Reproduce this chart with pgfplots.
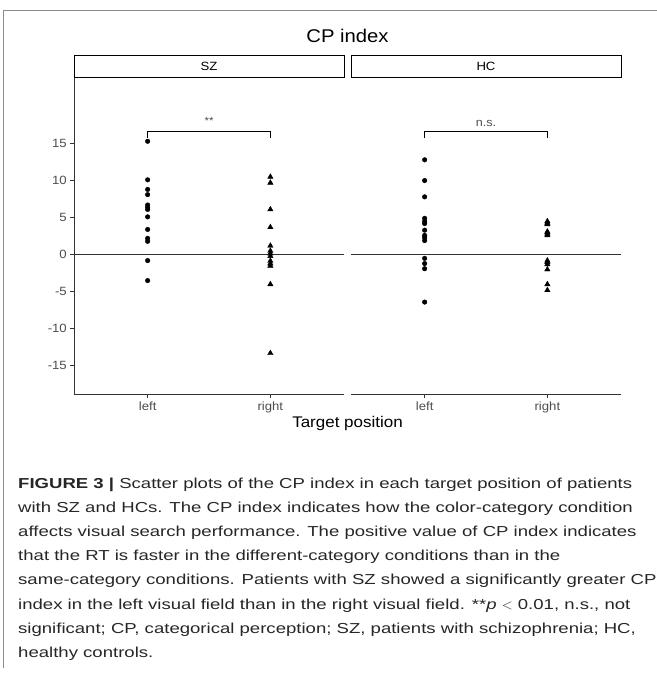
\documentclass[border=0pt]{standalone}
\usepackage{pgfplots}
\pgfplotsset{compat=1.18}
\usepackage{fontspec}
\setmainfont[FakeStretch=1.1]{Liberation Sans}
\newfontfamily\capfont[FakeStretch=1.285]{Liberation Sans}
\definecolor{axgray}{HTML}{333333}
\definecolor{tickgray}{HTML}{4D4D4D}
\definecolor{framegray}{HTML}{8C8C8C}

\pgfplotsset{
  facet/.style={
    scale only axis, width=270bp, height=316bp,
    xmin=0.4, xmax=2.6, ymin=-18.85, ymax=23.8,
    axis line style={-, axgray, line width=0.8bp},
    tick style={axgray, line width=0.8bp},
    tick align=outside, major tick length=3.7bp,
    xtick={1,2}, xticklabels={left,right},
    ticklabel style={tickgray, font=\fontsize{12}{14}\selectfont},
    clip=false,
  },
  circ/.style={only marks, mark=*, mark size=2.3bp, black},
  tri/.style={only marks, mark=triangle*, mark size=3.1bp, black},
}

\begin{document}
\begin{tikzpicture}
\useasboundingbox (0bp,0bp) rectangle (657bp,-681bp);
\begin{scope}[x=1bp, y=1bp]
% frame of the figure
\draw[framegray, line width=1bp] (3,-668) -- (3,-10) -- (657,-10);
\node at (347.5,-36) {\fontsize{18.5}{20}\selectfont CP index};
\draw[black, line width=0.8bp] (74,-55) rectangle (344,-77);
\node at (209,-66) {\fontsize{12}{14}\selectfont SZ};
\draw[black, line width=0.8bp] (351,-55) rectangle (621,-77);
\node at (486,-66) {\fontsize{12}{14}\selectfont HC};
\end{scope}

% SZ panel
\begin{axis}[facet, at={(74bp,-394.3bp)}, anchor=south west,
  axis x line*=bottom, axis y line*=left,
  ytick={-15,-10,-5,0,5,10,15},
  yticklabels={-15,-10,-5,0,5,10,15}]
\addplot[axgray, line width=0.8bp, no marks] coordinates {(0.4,0) (2.6,0)};
\addplot[circ] coordinates {
  (1,15.3) (1,10.1) (1,8.8) (1,8.1) (1,6.7) (1,6.4) (1,6.1)
  (1,5.1) (1,3.4) (1,2.2) (1,1.8) (1,-0.8) (1,-3.5)
};
\addplot[tri] coordinates {
  (2,10.5) (2,9.7) (2,6.1) (2,3.7) (2,1.2) (2,0.5) (2,0.15)
  (2,-0.2) (2,-0.85) (2,-1.2) (2,-1.5) (2,-4.0) (2,-13.3)
};
\addplot[black, line width=0.8bp, no marks] coordinates {(1,15.8) (1,16.6) (2,16.6) (2,15.8)};
\node[font=\fontsize{10.5}{12}\selectfont, tickgray] at (axis cs:1.5,18.0) {**};
\end{axis}

% HC panel
\begin{axis}[facet, at={(351bp,-394.3bp)}, anchor=south west,
  axis x line*=bottom, axis y line=none]
\addplot[axgray, line width=0.8bp, no marks] coordinates {(0.4,0) (2.6,0)};
\addplot[circ] coordinates {
  (1,12.8) (1,10.0) (1,7.8) (1,4.9) (1,4.5) (1,4.2) (1,3.3)
  (1,2.6) (1,2.3) (1,1.9) (1,-0.5) (1,-1.2) (1,-1.9) (1,-6.4)
};
\addplot[tri] coordinates {
  (2,4.5) (2,4.3) (2,4.1) (2,3.1) (2,3.0) (2,2.8) (2,2.6)
  (2,-0.8) (2,-1.0) (2,-1.3) (2,-2.0) (2,-4.0) (2,-4.8)
};
\addplot[black, line width=0.8bp, no marks] coordinates {(1,15.8) (1,16.6) (2,16.6) (2,15.8)};
\node[font=\fontsize{11.5}{13}\selectfont, tickgray] at (axis cs:1.5,17.7) {n.s.};
\end{axis}

\begin{scope}[x=1bp, y=1bp]
\node at (347.5,-424) {\fontsize{15.5}{17}\selectfont Target position};
% caption
\begin{scope}[every node/.style={anchor=base west, inner sep=0pt,
    font=\capfont\fontsize{14.5}{18}\selectfont, text=black!85}]
\node at (18,-488.0) {\textbf{FIGURE 3 |} Scatter plots of the CP index in each target position of patients};
\node at (18,-512.2) {with SZ and HCs. The CP index indicates how the color-category condition};
\node at (18,-536.4) {affects visual search performance. The positive value of CP index indicates};
\node at (18,-560.6) {that the RT is faster in the different-category conditions than in the};
\node at (18,-584.8) {same-category conditions. Patients with SZ showed a significantly greater CP};
\node at (18,-609.0) {index in the left visual field than in the right visual field. **\textit{p} $<$ 0.01, n.s., not};
\node at (18,-633.2) {significant; CP, categorical perception; SZ, patients with schizophrenia; HC,};
\node at (18,-657.4) {healthy controls.};
\end{scope}
\end{scope}
\end{tikzpicture}
\end{document}
